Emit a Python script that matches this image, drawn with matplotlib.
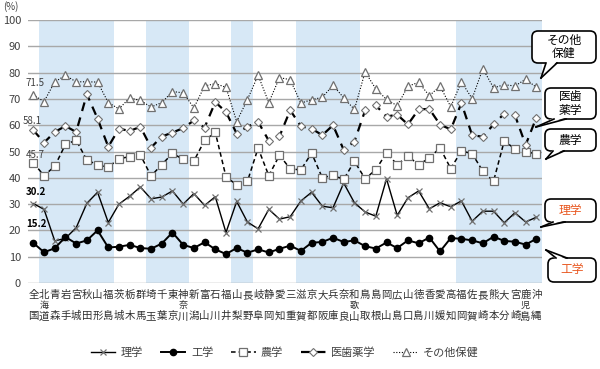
import matplotlib
matplotlib.use("Agg")
import matplotlib.pyplot as plt
from matplotlib.patches import FancyBboxPatch, Polygon
from matplotlib.lines import Line2D
import matplotlib.transforms as mtransforms

plt.rcParams['font.family'] = ['Noto Sans CJK JP', 'DejaVu Sans']

categories = ["全国", "北海道", "青森", "岩手", "宮城", "秋田", "山形", "福島", "茨城", "栃木",
              "群馬", "埼玉", "千葉", "東京", "神奈川", "新潟", "富山", "石川", "福井", "山梨",
              "長野", "岐阜", "静岡", "愛知", "三重", "滋賀", "京都", "大阪", "兵庫", "奈良",
              "和歌山", "鳥取", "島根", "岡山", "広島", "山口", "徳島", "香川", "愛媛", "高知",
              "福岡", "佐賀", "長崎", "熊本", "大分", "宮崎", "鹿児島", "沖縄"]

rigaku = [30.2, 28.0, 16.0, 17.0, 21.0, 30.3, 34.5, 23.0, 30.0, 33.0,
          36.5, 32.0, 32.7, 35.0, 30.0, 34.0, 29.5, 32.8, 19.2, 31.0,
          23.2, 20.6, 28.0, 24.3, 25.2, 31.2, 34.5, 29.2, 28.6, 38.0,
          30.5, 27.0, 25.4, 39.6, 25.7, 32.4, 35.0, 28.2, 30.5, 29.0,
          31.2, 23.5, 27.3, 27.3, 22.9, 26.7, 23.2, 25.0]
kougaku = [15.2, 11.7, 13.2, 17.5, 15.0, 16.2, 20.0, 13.5, 13.8, 14.5,
           13.3, 13.0, 15.0, 19.2, 14.5, 13.3, 15.5, 12.8, 11.0, 13.3,
           11.5, 12.8, 11.6, 13.0, 14.2, 12.2, 15.3, 15.6, 17.2, 15.6,
           16.2, 14.0, 13.1, 15.4, 13.3, 16.2, 15.1, 17.3, 12.0, 17.1,
           16.8, 16.2, 15.1, 17.6, 16.0, 15.7, 14.6, 16.8]
nougaku = [45.7, 40.8, 44.4, 52.7, 54.3, 46.7, 45.0, 44.0, 47.3, 48.0,
           48.7, 40.7, 45.0, 49.3, 47.0, 46.4, 54.2, 57.3, 40.4, 37.3,
           38.6, 51.3, 40.8, 48.6, 43.4, 43.0, 49.4, 40.0, 41.0, 39.4,
           46.3, 39.6, 43.1, 49.5, 45.0, 48.2, 45.0, 47.5, 51.4, 43.5,
           50.2, 49.2, 42.5, 38.7, 54.0, 51.0, 49.8, 49.2]
ishiyaku = [58.1, 53.4, 57.4, 59.7, 57.4, 71.8, 62.5, 51.8, 58.7, 57.8,
            59.4, 51.5, 55.7, 57.2, 58.9, 61.8, 59.1, 68.8, 65.0, 56.8,
            59.4, 61.3, 54.1, 55.8, 65.7, 59.6, 58.7, 56.2, 60.0, 50.6,
            53.8, 65.6, 67.5, 63.3, 64.0, 60.3, 66.0, 66.2, 60.2, 58.4,
            68.4, 56.2, 55.6, 60.3, 64.4, 63.8, 52.5, 62.9]
sonota = [71.5, 69.0, 76.5, 78.9, 76.5, 76.5, 76.4, 68.6, 66.2, 70.4,
          69.4, 66.9, 68.6, 72.8, 72.3, 66.6, 74.9, 75.8, 74.4, 61.4,
          69.7, 79.0, 68.6, 78.1, 77.3, 68.4, 69.7, 70.6, 75.2, 70.4,
          66.0, 80.3, 73.8, 69.8, 67.4, 74.8, 76.3, 71.2, 74.9, 67.0,
          76.5, 70.1, 81.5, 74.2, 75.4, 74.9, 77.5, 74.4]

# shaded regional bands (start index, end index inclusive)
bands = [(1, 7), (11, 14), (19, 20), (25, 30), (40, 47)]

series_names = ["理学", "工学", "農学", "医歯薬学", "その他保健"]
y_ticks = list(range(0, 101, 10))

W, H = 600, 369
fig = plt.figure(figsize=(W / 100, H / 100), dpi=100)
ax = fig.add_axes([28 / W, 1 - 283 / H, (541.7 - 28) / W, (283 - 20) / H])

n = len(categories)
x = list(range(n))
ax.set_xlim(-0.5, n - 0.5)
ax.set_ylim(0, 100)

for a, b in bands:
    ax.axvspan(a - 0.5, b + 0.5, color='#D7E8F6', zorder=0, lw=0)

for t in y_ticks:
    ax.axhline(t, color='#A8A8A8', lw=1.0, zorder=1)

for s in ax.spines.values():
    s.set_visible(False)
ax.set_xticks([])
ax.set_yticks(y_ticks)
ax.set_yticklabels([str(t) for t in y_ticks], fontsize=8, color='#404040')
ax.tick_params(axis='y', length=0, pad=5)

gray = '#707070'
l1, = ax.plot(x, rigaku, color='black', lw=1.0, marker='x', ms=5, mec=gray, mew=0.9,
              zorder=3, label=series_names[0])
l2, = ax.plot(x, kougaku, color='black', lw=1.4, marker='o', ms=4.5, mfc='black',
              mec='black', zorder=3, label=series_names[1])
l3, = ax.plot(x, nougaku, color='black', lw=1.1, ls=(0, (3, 2)), marker='s', ms=5.5,
              mfc='white', mec=gray, mew=0.9, zorder=3, label=series_names[2])
l4, = ax.plot(x, ishiyaku, color='black', lw=1.6, ls=(0, (4, 3)), marker='D', ms=4,
              mfc='white', mec=gray, mew=0.8, zorder=3, label=series_names[3])
l5, = ax.plot(x, sonota, color='black', lw=0.8, ls=(0, (1, 1.5)), marker='^', ms=5.5,
              mfc='white', mec=gray, mew=0.9, zorder=3, label=series_names[4])

# first-value labels
ax.text(0.15, sonota[0] + 4.5, f"{sonota[0]:.1f}", fontsize=7, color='#404040', ha='center', va='center')
ax.text(-0.1, ishiyaku[0] + 3.5, f"{ishiyaku[0]:.1f}", fontsize=7, color='#404040', ha='center', va='center')
ax.text(0.15, nougaku[0] + 3.0, f"{nougaku[0]:.1f}", fontsize=7, color='#404040', ha='center', va='center')
ax.text(0.25, rigaku[0] + 4.5, f"{rigaku[0]:.1f}", fontsize=7, color='black', ha='center', va='center', fontweight='bold')
ax.text(0.25, kougaku[0] + 7.2, f"{kougaku[0]:.1f}", fontsize=7, color='black', ha='center', va='center', fontweight='bold')

# vertical category labels
btr = mtransforms.blended_transform_factory(ax.transData, fig.transFigure)
for i, name in enumerate(categories):
    if len(name) == 2:
        ys = [295, 316]
        sizes = [7.5, 7.5]
    else:
        ys = [295, 305.5, 317]
        sizes = [7.5, 6.5, 7.5]
    for ch, py, fs in zip(name, ys, sizes):
        ax.text(i, 1 - py / H, ch, transform=btr, ha='center', va='center',
                fontsize=fs, color='#303030', clip_on=False)

fig.text(3 / W, 1 - 7 / H, "(%)", fontsize=7, color='#404040', ha='left', va='center')

# callouts (pixel coords from top-left), drawn in inch units so corners are round
ptr = fig.dpi_scale_trans

def pin(xp, yp):
    return (xp / 100, (H - yp) / 100)

def callout(x0, y0, x1, y1, text, color, base, tip):
    box = FancyBboxPatch(pin(x0, y1), (x1 - x0) / 100, (y1 - y0) / 100,
                         boxstyle="round,pad=0,rounding_size=0.06",
                         transform=ptr, facecolor='white',
                         edgecolor='black', lw=1.2, zorder=5)
    fig.patches.append(box)
    (bx0, by), (bx1, _) = base
    inner = 1.5 if by >= y1 - 0.1 else -1.5
    tri = Polygon([pin(bx0, by - inner), pin(bx1, by - inner), pin(*tip)], closed=True,
                  transform=ptr, facecolor='white', edgecolor='none', zorder=6)
    fig.patches.append(tri)
    for bx in (bx0, bx1):
        p0 = pin(bx, by)
        p1 = pin(*tip)
        fig.lines.append(Line2D([p0[0], p1[0]], [p0[1], p1[1]],
                                transform=ptr, color='black', lw=1.2, zorder=7))
    fig.text((x0 + x1) / 2 / W, 1 - (y0 + y1) / 2 / H, text, ha='center', va='center',
             fontsize=8.5, color=color, linespacing=1.05, zorder=8)

red = '#E8561E'
callout(532, 31, 596, 63, "その他\n保健", 'black', ((546, 63), (557, 63)), (541, 78))
callout(545, 88, 596, 119, "医歯\n薬学", 'black', ((554, 119), (566, 119)), (536, 127))
callout(545, 129, 596, 151, "農学", 'black', ((553, 151), (564, 151)), (546, 159))
callout(545, 199, 596, 222, "理学", red, ((553, 222), (565, 222)), (541, 227))
callout(548, 258, 596, 282, "工学", red, ((556, 258), (567, 258)), (546, 250))

leg = fig.legend(handles=[l1, l2, l3, l4, l5], loc='center',
                 bbox_to_anchor=(285 / W, 1 - 353 / H), ncol=5, frameon=False,
                 fontsize=8, handlelength=2.2, columnspacing=1.6, handletextpad=0.5)
for t in leg.get_texts():
    t.set_color('#404040')

fig.savefig("out.png", dpi=100)
